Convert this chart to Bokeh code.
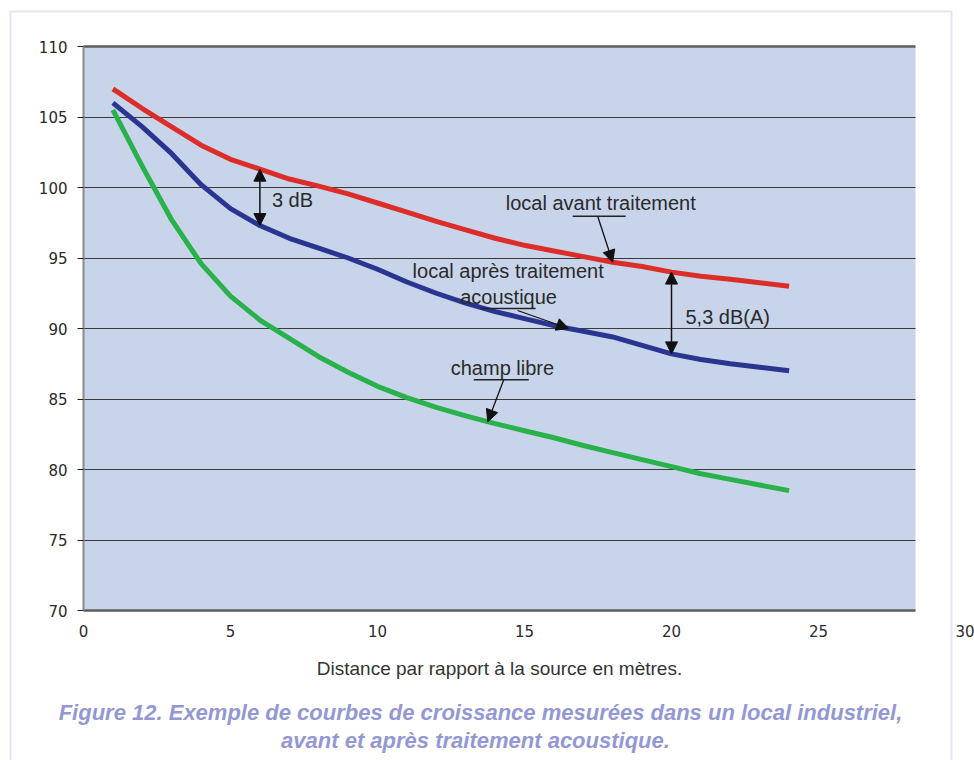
import numpy as np
from bokeh.plotting import figure
from bokeh.models import (Range1d, FixedTicker, Label, Arrow, NormalHead,
                          BoxAnnotation, LinearAxis, Grid)
from bokeh.embed import file_html
from bokeh.resources import INLINE

# ---------------- data ----------------
distance = list(range(1, 25))
avant_traitement = [107.0, 105.6, 104.3, 103.0, 102.0, 101.3, 100.6, 100.1, 99.55, 98.9,
                    98.25, 97.6, 97.0, 96.4, 95.9, 95.5, 95.1, 94.7, 94.4, 94.0,
                    93.7, 93.5, 93.25, 93.0]
apres_traitement = [106.0, 104.3, 102.4, 100.2, 98.5, 97.3, 96.4, 95.7, 95.0, 94.2,
                    93.3, 92.5, 91.8, 91.2, 90.7, 90.2, 89.8, 89.4, 88.8, 88.2,
                    87.8, 87.5, 87.25, 87.0]
champ_libre = [105.5, 101.5, 97.7, 94.6, 92.3, 90.6, 89.3, 88.0, 86.9, 85.9,
               85.1, 84.4, 83.8, 83.25, 82.75, 82.25, 81.7, 81.2, 80.7, 80.2,
               79.7, 79.3, 78.9, 78.5]
x_ticks = [0, 5, 10, 15, 20, 25, 30]
y_ticks = [70, 75, 80, 85, 90, 95, 100, 105, 110]

x_title = "Distance par rapport à la source en mètres."
caption_1 = "Figure 12. Exemple de courbes de croissance mesurées dans un local industriel,"
caption_2 = "avant et après traitement acoustique."

# ---------------- layout (pixels of the canvas) ----------------
W, H = 974, 760
PLOT_L, PLOT_R, PLOT_T, PLOT_B = 83, 915, 46, 610
X_MIN, Y_MIN, Y_MAX = 0, 70, 110
PX_X = 29.4                       # pixels per metre
PX_Y = (PLOT_B - PLOT_T) / (Y_MAX - Y_MIN)
X_PLOT_MAX = X_MIN + (PLOT_R - PLOT_L) / PX_X

x_range = Range1d(X_MIN - PLOT_L / PX_X, X_MIN + (W - PLOT_L) / PX_X)
y_range = Range1d(Y_MIN - (H - PLOT_B) / PX_Y, Y_MAX + PLOT_T / PX_Y)

FONT = "Liberation Sans"
TXT = "#2a2a2a"

p = figure(width=W, height=H, output_backend="svg", toolbar_location=None,
           x_range=x_range, y_range=y_range, min_border=0,
           x_axis_location=None, y_axis_location=None)
# drop any default grids
p.center = [r for r in p.center if not isinstance(r, Grid)]
p.background_fill_color = "white"
p.border_fill_color = "white"
p.outline_line_color = None

# plot area background
p.add_layout(BoxAnnotation(left=X_MIN, right=X_PLOT_MAX, bottom=Y_MIN, top=Y_MAX,
                           fill_color="#c8d4ea", fill_alpha=1, line_color=None,
                           level="image"))
# horizontal grid lines
p.add_layout(Grid(dimension=1, ticker=FixedTicker(ticks=y_ticks[1:-1]),
                  cross_bounds=(X_MIN, X_PLOT_MAX), grid_line_color="#3a3a3a",
                  grid_line_width=1))
# top and bottom borders of the plot area
p.add_layout(Grid(dimension=1, ticker=FixedTicker(ticks=[Y_MIN, Y_MAX]),
                  cross_bounds=(X_MIN, X_PLOT_MAX), grid_line_color="#5e5e5e",
                  grid_line_width=2.5))

# axes
yax = LinearAxis(fixed_location=X_MIN, bounds=(Y_MIN, Y_MAX),
                 ticker=FixedTicker(ticks=y_ticks))
yax.axis_line_color = "#8a8a8a"
yax.axis_line_width = 2
yax.major_tick_line_color = "#222222"
yax.major_tick_out = 6
yax.major_tick_in = 0
yax.minor_tick_line_color = None
yax.major_label_standoff = 10
yax.major_label_text_font = "DejaVu Sans"
yax.major_label_text_font_size = "15px"
yax.major_label_text_color = TXT
p.add_layout(yax, "left")

xax = LinearAxis(fixed_location=Y_MIN, bounds=(x_ticks[0], x_ticks[-1]),
                 ticker=FixedTicker(ticks=x_ticks))
xax.axis_line_color = None
xax.major_tick_line_color = None
xax.major_tick_out = 0
xax.major_tick_in = 0
xax.minor_tick_line_color = None
xax.major_label_standoff = 14
xax.major_label_text_font = "DejaVu Sans"
xax.major_label_text_font_size = "15px"
xax.major_label_text_color = TXT
p.add_layout(xax, "below")

# curves
p.line(distance, avant_traitement, line_color="#dc2d29", line_width=5, line_join="round")
p.line(distance, apres_traitement, line_color="#2a3592", line_width=5, line_join="round")
p.line(distance, champ_libre, line_color="#29b14b", line_width=5, line_join="round")


def head():
    return NormalHead(size=12, fill_color="#111111", line_color="#111111", line_width=1)


def dbl_arrow(xv, label, dx, dy):
    i = distance.index(xv)
    top, bot = avant_traitement[i], apres_traitement[i]
    p.add_layout(Arrow(x_start=xv, y_start=bot, x_end=xv, y_end=top,
                       start=head(), end=head(), line_color="#111111", line_width=1.5))
    p.add_layout(Label(x=xv, y=(top + bot) / 2, x_offset=dx, y_offset=dy, text=label,
                       text_align="left", text_baseline="middle",
                       text_font=FONT, text_font_size="20px", text_color=TXT))


dbl_arrow(6, "3 dB", 12, -3)
dbl_arrow(20, "5,3 dB(A)", 14, -4)


def callout(tx, series, tail, uline, texts):
    ty = float(np.interp(tx, distance, series))
    p.add_layout(Arrow(x_start=tx + tail[0] / PX_X, y_start=ty + tail[1] / PX_Y,
                       x_end=tx, y_end=ty, end=head(),
                       line_color="#111111", line_width=1.3))
    p.add_layout(Arrow(x_start=tx + uline[0] / PX_X, y_start=ty + uline[2] / PX_Y,
                       x_end=tx + uline[1] / PX_X, y_end=ty + uline[2] / PX_Y, end=None,
                       line_color="#222222", line_width=1.3))
    for t, dx, dy, al in texts:
        p.add_layout(Label(x=tx, y=ty, x_offset=dx, y_offset=dy, text=t,
                           text_align=al, text_baseline="middle",
                           text_font=FONT, text_font_size="20px", text_color=TXT))


callout(18, avant_traitement, (-15, 46), (-40, 13, 46),
        [("local avant traitement", -107, 59, "left")])
callout(16.5, apres_traitement, (-51, 18), (-88, -33, 20),
        [("local après traitement", -156, 58, "left"),
         ("acoustique", -60, 32, "center")])
callout(13.75, champ_libre, (16, 42), (-14, 41, 42),
        [("champ libre", -37, 54, "left")])

# axis title and caption (screen units = canvas pixels, y from bottom)
p.add_layout(Label(x=499, y=H - 668, x_units="screen", y_units="screen", text=x_title,
                   text_align="center", text_baseline="middle",
                   text_font=FONT, text_font_size="19px", text_color="#333333"))
cap_color = "#9398d4"
p.add_layout(Label(x=480, y=H - 712, x_units="screen", y_units="screen", text=caption_1,
                   text_align="center", text_baseline="middle",
                   text_font=FONT, text_font_size="22px",
                   text_font_style="bold italic", text_color=cap_color))
p.add_layout(Label(x=475, y=H - 740, x_units="screen", y_units="screen", text=caption_2,
                   text_align="center", text_baseline="middle",
                   text_font=FONT, text_font_size="22px",
                   text_font_style="bold italic", text_color=cap_color))

# outer lavender frame
p.add_layout(BoxAnnotation(left=10, right=951, top=H - 11, bottom=-40,
                           left_units="screen", right_units="screen",
                           top_units="screen", bottom_units="screen",
                           fill_alpha=0, line_color="#9ea4dc", line_width=2))

open("out.html", "w").write(file_html(p, INLINE))
